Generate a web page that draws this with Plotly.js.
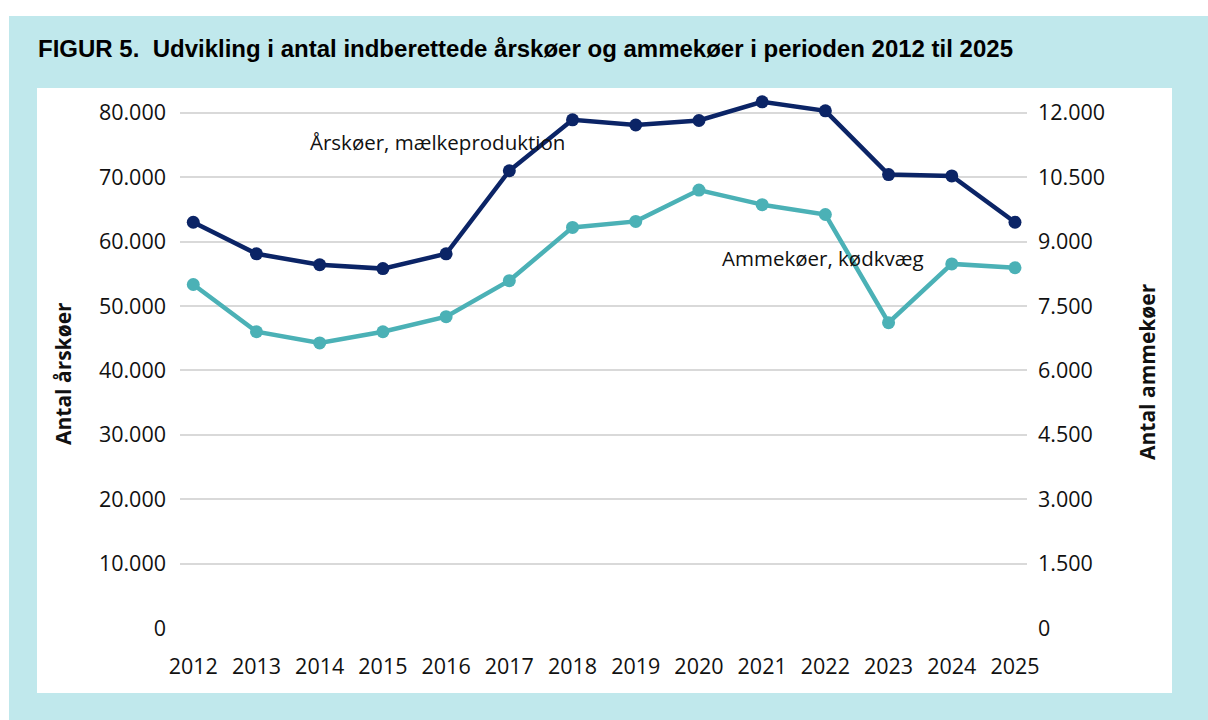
<!DOCTYPE html>
<html>
<head>
<meta charset="utf-8">
<script src="https://cdn.plot.ly/plotly-3.0.1.min.js"></script>
<style>html,body{margin:0;padding:0;background:#fff;}#chart{width:1208px;height:720px;}</style>
</head>
<body>
<div id="chart"></div>
<script>
const years = [2012, 2013, 2014, 2015, 2016, 2017, 2018, 2019, 2020, 2021, 2022, 2023, 2024, 2025];
const aarskoeer = [63000, 58100, 56400, 55800, 58100, 71000, 78900, 78100, 78800, 81700, 80300, 70400, 70200, 63000];
const ammekoeer = [8000, 6900, 6640, 6900, 7250, 8090, 9330, 9470, 10200, 9860, 9630, 7110, 8480, 8390];
const leftTicks = [0, 10000, 20000, 30000, 40000, 50000, 60000, 70000, 80000];
const leftLabels = ['0', '10.000', '20.000', '30.000', '40.000', '50.000', '60.000', '70.000', '80.000'];
const rightTicks = [0, 1500, 3000, 4500, 6000, 7500, 9000, 10500, 12000];
const rightLabels = ['0', '1.500', '3.000', '4.500', '6.000', '7.500', '9.000', '10.500', '12.000'];

const FONT = 'Open Sans, Noto Sans, sans-serif';
const tickFont = {family: FONT, size: 21.5, color: '#111'};

const traces = [
  {x: years, y: aarskoeer, type: 'scatter', mode: 'lines+markers', name: 'Årskøer, mælkeproduktion',
   line: {color: '#0b2466', width: 4.5}, marker: {color: '#0b2466', size: 13}, cliponaxis: false, yaxis: 'y'},
  {x: years, y: ammekoeer, type: 'scatter', mode: 'lines+markers', name: 'Ammekøer, kødkvæg',
   line: {color: '#4bb1b6', width: 4.5}, marker: {color: '#4bb1b6', size: 13}, cliponaxis: false, yaxis: 'y2'}
];

const pw = 1208 - 180 - 181, ph = 720 - 87 - 92;
function px(x) { return (x - 180) / pw; }
function py(y) { return (720 - 92 - y) / ph; }

const layout = {
  width: 1208, height: 720,
  paper_bgcolor: 'rgba(0,0,0,0)', plot_bgcolor: 'rgba(0,0,0,0)',
  margin: {l: 180, r: 181, t: 87, b: 92},
  showlegend: false,
  title: {text: '<b>FIGUR 5.  Udvikling i antal indberettede årskøer og ammekøer i perioden 2012 til 2025</b>',
          font: {family: 'Liberation Sans, Arial, sans-serif', size: 24, color: '#000'},
          xref: 'container', yref: 'container', x: 38/1208, xanchor: 'left', y: 1 - 49/720, yanchor: 'middle'},
  xaxis: {range: [2011.79, 2025.19], tickvals: years, ticktext: years.map(String), showgrid: false,
          zeroline: false, showline: false, ticks: '', tickfont: tickFont, ticklabelstandoff: 23, fixedrange: true},
  yaxis: {range: [0, 84000], tickvals: leftTicks, ticktext: leftLabels, showgrid: true, gridcolor: '#d9d9d9', gridwidth: 2,
          zeroline: false, showline: false, ticks: '', tickfont: tickFont, ticklabelstandoff: 13},
  yaxis2: {range: [0, 12600], overlaying: 'y', side: 'right', tickvals: rightTicks, ticktext: rightLabels, showgrid: false,
           zeroline: false, showline: false, ticks: '', tickfont: tickFont, ticklabelstandoff: 10},
  shapes: [
    {type: 'rect', xref: 'paper', yref: 'paper', layer: 'below', x0: px(9), x1: px(1210), y0: py(16), y1: py(722), fillcolor: '#c0e8ec', line: {width: 0}},
    {type: 'rect', xref: 'paper', yref: 'paper', layer: 'below', x0: px(37), x1: px(1172), y0: py(88), y1: py(693), fillcolor: '#ffffff', line: {width: 0}}
  ],
  annotations: [
    {text: 'Årskøer, mælkeproduktion', x: 2013.81, y: 75400, xref: 'x', yref: 'y', xanchor: 'left', yanchor: 'middle', showarrow: false,
     font: {family: FONT, size: 20.5, color: '#111'}},
    {text: 'Ammekøer, kødkvæg', x: 2020.33, y: 8620, xref: 'x', yref: 'y2', xanchor: 'left', yanchor: 'middle', showarrow: false,
     font: {family: FONT, size: 20.5, color: '#111'}},
    {text: '<b>Antal årskøer</b>', textangle: -90, x: px(63), y: py(374), xref: 'paper', yref: 'paper', xanchor: 'center', yanchor: 'middle',
     showarrow: false, font: {family: FONT, size: 21, color: '#111'}},
    {text: '<b>Antal ammekøer</b>', textangle: -90, x: px(1147), y: py(372), xref: 'paper', yref: 'paper', xanchor: 'center', yanchor: 'middle',
     showarrow: false, font: {family: FONT, size: 21, color: '#111'}}
  ]
};

Plotly.newPlot('chart', traces, layout, {staticPlot: true, displayModeBar: false});
</script>
</body>
</html>
